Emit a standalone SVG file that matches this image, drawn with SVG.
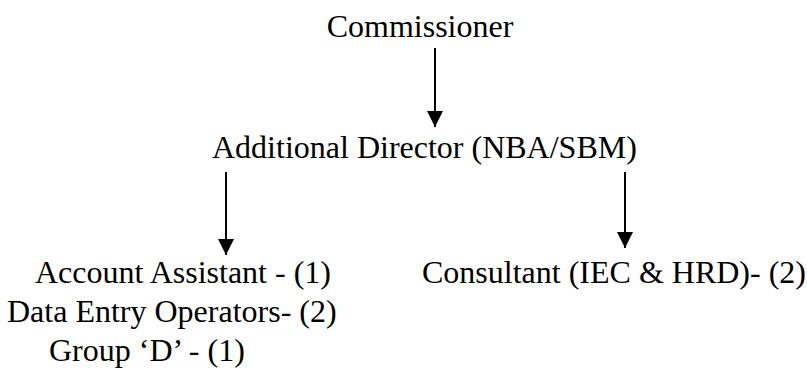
<svg xmlns="http://www.w3.org/2000/svg" width="807" height="378" viewBox="0 0 807 378">
<style>
text { font-family: "Liberation Serif", "Times New Roman", serif; font-size: 32px; fill: #000; }
.c { stroke: #000; stroke-width: 2; fill: none; }
</style>
<defs>
<marker id="ah" markerWidth="8" markerHeight="8" refX="8" refY="4" orient="auto" markerUnits="strokeWidth">
<path d="M0,0 L8,4 L0,8 z" fill="#000"/>
</marker>
</defs>
<rect width="807" height="378" fill="#fff"/>
<g id="connectors">
<line class="c" x1="435" y1="48" x2="435" y2="127" marker-end="url(#ah)"/>
<line class="c" x1="226" y1="172" x2="226" y2="255" marker-end="url(#ah)"/>
<line class="c" x1="625" y1="172" x2="625" y2="248" marker-end="url(#ah)"/>
</g>
<g id="commissioner"><text x="420" y="37" text-anchor="middle">Commissioner</text></g>
<g id="additional-director"><text x="212" y="158">Additional Director (NBA/SBM)</text></g>
<g id="left-staff">
<text x="35" y="283">Account Assistant - (1)</text>
<text x="7" y="322">Data Entry Operators- (2)</text>
<text x="49" y="361">Group ‘D’ - (1)</text>
</g>
<g id="consultant"><text x="422" y="283">Consultant (IEC &amp; HRD)- (2)</text></g>
</svg>
